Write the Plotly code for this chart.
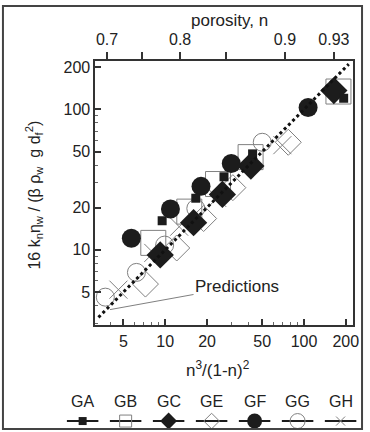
import numpy as np
import plotly.graph_objects as go

# ---------------- data ----------------
series_names = ["GA", "GB", "GC", "GE", "GF", "GG", "GH"]
ga_x = [9.5, 16.6, 26.5, 42.6, 193]
ga_y = [16.1, 23.3, 33.1, 48.2, 120]
gb_x = [8.2, 14.9, 24.0, 41.2, 177]
gb_y = [11.2, 18.7, 29.4, 45.7, 134]
gc_x = [9.2, 16.0, 25.8, 41.4, 164]
gc_y = [9.2, 15.6, 24.8, 39.5, 136]
ge_x = [7.2, 12.1, 18.9, 30.7, 77]
ge_y = [5.7, 10.3, 16.7, 27.7, 58.3]
gf_x = [5.7, 10.9, 18.1, 29.9, 107]
gf_y = [12.1, 19.5, 28.3, 41.2, 103]
gg_x = [3.7, 6.2, 9.9, 16.6, 50]
gg_y = [4.6, 6.9, 10.8, 19.7, 58.3]
gh_x = [4.6, 8.2, 12.6, 23.7, 69.8]
gh_y = [5.2, 9.5, 14.6, 23.4, 55.6]
pred_x = [3.3, 210]
pred_y = [3.3, 210]
pred_label_point = (4.0, 3.75)

x_ticks = [5, 10, 20, 50, 100, 200]
y_ticks = [5, 10, 20, 50, 100, 200]
minor_ticks = [3, 4, 6, 7, 8, 9, 30, 40, 60, 70, 80, 90]
porosity_ticks = [0.7, 0.75, 0.8, 0.85, 0.9, 0.93]
porosity_labels = ["0.7", "", "0.8", "", "0.9", "0.93"]

# ---------------- styles ----------------
FONT = "Liberation Sans, Arial, Helvetica, sans-serif"
DARK = "#1c1c1c"
GRAY = "#808080"
AX = "#333333"
W, H = 370, 432
L, R, T, B = 97, 359, 59, 325
xdom = [L / W, R / W]
ydom = [(H - B) / H, (H - T) / H]
xr = [np.log10(3.14), np.log10(226)]
yr = [np.log10(2.89), np.log10(222)]

styles = {
    "GB": dict(symbol="square-open", size=25, color=GRAY, line=dict(color=GRAY, width=1)),
    "GE": dict(symbol="diamond-open", size=20, color=GRAY, line=dict(color=GRAY, width=1)),
    "GG": dict(symbol="circle-open", size=18, color=GRAY, line=dict(color=GRAY, width=1)),
    "GH": dict(symbol="x-thin-open", size=18, color=GRAY, line=dict(color=GRAY, width=1)),
    "GC": dict(symbol="diamond", size=21, color=DARK, line=dict(width=0)),
    "GF": dict(symbol="circle", size=19, color=DARK, line=dict(width=0)),
    "GA": dict(symbol="square", size=9, color=DARK, line=dict(width=0)),
}
leg_styles = {
    "GA": dict(symbol="square", size=8, color=DARK, line=dict(width=0)),
    "GB": dict(symbol="square-open", size=12, color=GRAY, line=dict(color=GRAY, width=1)),
    "GC": dict(symbol="diamond", size=13, color=DARK, line=dict(width=0)),
    "GE": dict(symbol="diamond-open", size=12, color=GRAY, line=dict(color=GRAY, width=1)),
    "GF": dict(symbol="circle", size=15, color=DARK, line=dict(width=0)),
    "GG": dict(symbol="circle-open", size=15, color=GRAY, line=dict(color=GRAY, width=1)),
    "GH": dict(symbol="x-thin-open", size=9, color=GRAY, line=dict(color=GRAY, width=1)),
}
data = {
    "GA": (ga_x, ga_y), "GB": (gb_x, gb_y), "GC": (gc_x, gc_y), "GE": (ge_x, ge_y),
    "GF": (gf_x, gf_y), "GG": (gg_x, gg_y), "GH": (gh_x, gh_y),
}

fig = go.Figure()
for name in ["GB", "GE", "GG", "GH", "GC", "GF", "GA"]:
    xs, ys = data[name]
    fig.add_trace(go.Scatter(x=xs, y=ys, mode="markers", marker=styles[name],
                             showlegend=False, hoverinfo="skip", cliponaxis=False))

fig.add_trace(go.Scatter(x=pred_x, y=pred_y, mode="lines",
                         line=dict(color="#111111", width=3, dash="dot"),
                         showlegend=False, hoverinfo="skip"))
# invisible trace to activate top axis
fig.add_trace(go.Scatter(x=pred_x, y=pred_y, xaxis="x2", yaxis="y", mode="lines",
                         line=dict(width=0), opacity=0, showlegend=False, hoverinfo="skip"))

# custom legend on a pixel-based helper axis
leg_x0, leg_dx = 84, 43.7
leg_label_y, leg_mark_y, half_len = 401, 421, 16
annotations = []
for i, name in enumerate(series_names):
    c = leg_x0 + i * leg_dx
    fig.add_trace(go.Scatter(x=[c - half_len, c + half_len], y=[leg_mark_y, leg_mark_y],
                             xaxis="x3", yaxis="y3", mode="lines",
                             line=dict(color=DARK, width=2), showlegend=False, hoverinfo="skip"))
    fig.add_trace(go.Scatter(x=[c], y=[leg_mark_y], xaxis="x3", yaxis="y3", mode="markers",
                             marker=leg_styles[name], showlegend=False, hoverinfo="skip"))
    annotations.append(dict(x=c, y=leg_label_y, xref="x3", yref="y3", text=name,
                            xanchor="center", yanchor="middle",
                            showarrow=False, font=dict(family=FONT, size=16, color="#222")))

annotations += [
    dict(x=np.log10(pred_label_point[0]), y=np.log10(pred_label_point[1]), xref="x", yref="y",
         text="Predictions", showarrow=True, arrowhead=0, arrowwidth=1, arrowcolor=GRAY,
         ax=127, ay=-23, font=dict(family=FONT, size=17, color="#222")),
    dict(x=222 / W, y=(H - 369) / H, xref="paper", yref="paper", xanchor="center", yanchor="middle",
         text="n<sup>3</sup>/(1-n)<sup>2</sup>", showarrow=False,
         font=dict(family=FONT, size=17, color="#222")),
    dict(x=233 / W, y=(H - 19) / H, xref="paper", yref="paper", xanchor="center", yanchor="middle",
         text="porosity, n", showarrow=False, font=dict(family=FONT, size=17, color="#222")),
    dict(x=35 / W, y=(H - 194) / H, xref="paper", yref="paper", textangle=-90,
         xanchor="center", yanchor="middle",
         text="16 k<sub>n</sub>η<sub>w</sub> / (β ρ<sub>w</sub>  g d<sub>f</sub><sup>2</sup>)",
         showarrow=False, font=dict(family=FONT, size=16, color="#222")),
]

axis_common = dict(type="log", showgrid=False, zeroline=False, showline=True,
                   linewidth=2, linecolor=AX, tickcolor=AX, tickwidth=1.5,
                   tickfont=dict(family=FONT, size=16, color="#222"))
minor = dict(tickvals=minor_ticks, ticks="inside", ticklen=3, tickwidth=1, tickcolor="#666", showgrid=False)

fig.update_layout(
    width=W, height=H, margin=dict(l=0, r=0, t=0, b=0),
    paper_bgcolor="white", plot_bgcolor="rgba(0,0,0,0)",
    xaxis=dict(**axis_common, domain=xdom, anchor="y", range=xr, tickvals=x_ticks,
               ticktext=[str(v) for v in x_ticks], ticks="inside", ticklen=6, mirror=True,
               minor=minor),
    yaxis=dict(**axis_common, domain=ydom, anchor="x", range=yr, tickvals=y_ticks,
               ticktext=[str(v) for v in y_ticks], ticks="inside", ticklen=6, mirror=True,
               minor=minor),
    xaxis2=dict(**axis_common, overlaying="x", side="top", anchor="y", range=xr,
                tickvals=[n ** 3 / (1 - n) ** 2 for n in porosity_ticks],
                ticktext=porosity_labels, ticks="outside", ticklen=7),
    xaxis3=dict(domain=[0, 1], range=[0, W], visible=False, anchor="y3", fixedrange=True),
    yaxis3=dict(domain=[0, 1], range=[H, 0], visible=False, anchor="x3", fixedrange=True),
    annotations=annotations,
    shapes=[dict(type="rect", xref="paper", yref="paper", x0=3 / W, x1=368 / W,
                 y0=(H - 429) / H, y1=(H - 4) / H, line=dict(color="#444", width=2))],
)

fig.write_html("out.html")
